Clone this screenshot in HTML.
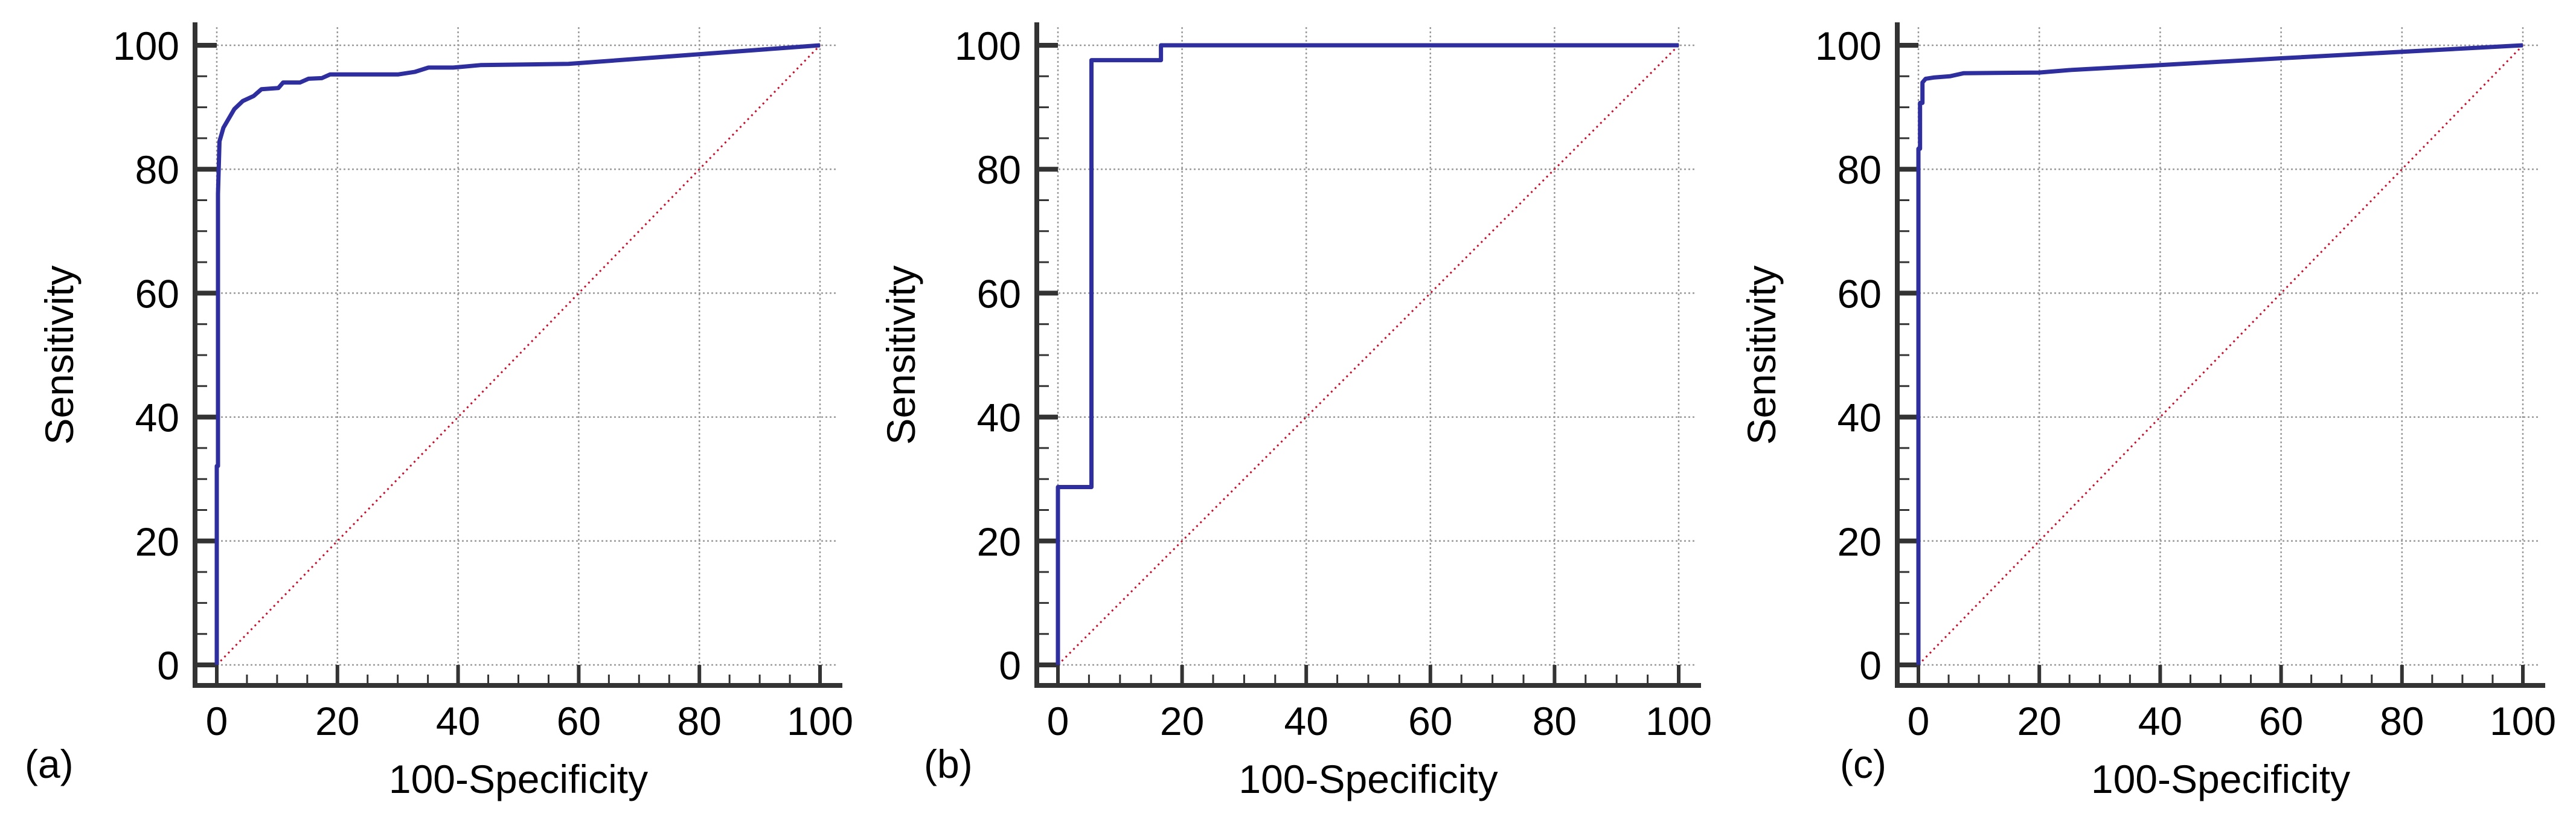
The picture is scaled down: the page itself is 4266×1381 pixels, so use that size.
<!DOCTYPE html>
<html><head><meta charset="utf-8"><style>
html,body{margin:0;padding:0;background:#fff;}
svg{display:block;font-family:"Liberation Sans",Arial,sans-serif;}
</style></head><body>
<svg id="chart" width="4266" height="1381" viewBox="0 0 4266 1381" xmlns="http://www.w3.org/2000/svg"></svg>
<script>
// Data
const tickValues = [0, 20, 40, 60, 80, 100];
const panelLabels = ["(a)", "(b)", "(c)"];
const rocA_x = [0, 0, 0.2, 0.2, 0.45, 1.1, 2.9, 4.3, 6.1, 7.4, 10.2, 11, 13.8, 15.2, 17.4, 18.8, 30.1, 32.8, 35.1, 39.2, 43.7, 58.3, 100];
const rocA_y = [0, 32.1, 32.1, 76, 84.5, 86.7, 89.7, 91, 91.8, 92.9, 93.1, 94, 94, 94.6, 94.7, 95.3, 95.3, 95.7, 96.4, 96.4, 96.8, 97, 100];
const rocB_x = [0, 0, 5.4, 5.4, 16.6, 16.6, 100];
const rocB_y = [0, 28.7, 28.7, 97.6, 97.6, 100, 100];
const rocC_x = [0, 0, 0.27, 0.27, 0.67, 0.67, 1.2, 2.5, 5.2, 7.5, 20, 25, 40, 60, 100];
const rocC_y = [0, 83.3, 83.3, 90.7, 90.7, 94, 94.6, 94.8, 95, 95.5, 95.6, 96, 96.8, 97.9, 100];

const panels = [
  {name:"a", axisX:323, x0:359, x100:1358, lbl:41, xs:rocA_x, ys:rocA_y},
  {name:"b", axisX:1717, x0:1752, x100:2780, lbl:1530, xs:rocB_x, ys:rocB_y},
  {name:"c", axisX:3142, x0:3177, x100:4178, lbl:3047, xs:rocC_x, ys:rocC_y}
];
const Y0 = 1101, Y100 = 75, AXIS_Y = 1135;
const NS = "http://www.w3.org/2000/svg";
const svg = document.getElementById("chart");
function mk(tag, attrs, parent){
  const e = document.createElementNS(NS, tag);
  for (const k in attrs) e.setAttribute(k, attrs[k]);
  (parent||svg).appendChild(e);
  return e;
}
panels.forEach((p, pi) => {
  const g = mk("g", {});
  
  
  const sx = v => p.x0 + (p.x100 - p.x0) * v / 100;
  const sy = v => Y0 + (Y100 - Y0) * v / 100;
  // grid
  tickValues.forEach(t => {
    const h = mk("line", {x1:p.axisX+8, x2:sx(100)+28, y1:sy(t), y2:sy(t), stroke:"#9a9a9a", "stroke-width":2.5, "stroke-dasharray":"3 4"}, g);
    
    
    const v = mk("line", {x1:sx(t), x2:sx(t), y1:sy(100)-30, y2:AXIS_Y-8, stroke:"#9a9a9a", "stroke-width":2.5, "stroke-dasharray":"3 4"}, g);
    
    
  });
  // diagonal reference
  const d = mk("line", {x1:sx(0), y1:sy(0), x2:sx(100), y2:sy(100), stroke:"#c8102e", "stroke-width":3, "stroke-dasharray":"3 6"}, g);
  
  
  // ticks
  for (let t = 0; t <= 100; t += 5) {
    const major = t % 20 === 0;
    const yt = mk("line", {x1:p.axisX, x2: major ? sx(0) : p.axisX+20, y1:sy(t), y2:sy(t), stroke:"#333", "stroke-width": major ? 8 : 3}, g);
    
    
    const xt = mk("line", {x1:sx(t), x2:sx(t), y1:AXIS_Y, y2: major ? Y0 : Y0+16, stroke:"#333", "stroke-width": major ? 6 : 3}, g);
    
    
  }
  // axes
  const ya = mk("line", {x1:p.axisX, x2:p.axisX, y1:37, y2:AXIS_Y+4, stroke:"#333", "stroke-width":8}, g);
  
  
  const xa = mk("line", {x1:p.axisX-4, x2:sx(100)+37, y1:AXIS_Y, y2:AXIS_Y, stroke:"#333", "stroke-width":8}, g);
  
  
  // tick labels
  tickValues.forEach(t => {
    const yl = mk("text", {x:p.axisX-26, y:sy(t)+24, "text-anchor":"end", "font-size":66, fill:"#000"}, g);
    yl.textContent = t;
    
    
    const xl = mk("text", {x:sx(t), y:1217, "text-anchor":"middle", "font-size":66, fill:"#000"}, g);
    xl.textContent = t;
    
    
  });
  // titles
  const xtl = mk("text", {x:(sx(0)+sx(100))/2, y:1313, "text-anchor":"middle", "font-size":66, fill:"#000"}, g);
  xtl.textContent = "100-Specificity";
  
  
  const ytx = p.axisX - 202, yty = 588;
  const ytl = mk("text", {x:ytx, y:yty, "text-anchor":"middle", "font-size":66, fill:"#000", transform:`rotate(-90 ${ytx} ${yty})`}, g);
  ytl.textContent = "Sensitivity";
  
  
  const pl = mk("text", {x:p.lbl, y:1288, "font-size":66, fill:"#000"}, g);
  pl.textContent = panelLabels[pi];
  
  
  // ROC curve
  const pts = p.xs.map((x, i) => sx(x).toFixed(1) + "," + sy(p.ys[i]).toFixed(1)).join(" ");
  const c = mk("polyline", {points:pts, fill:"none", stroke:"#2e2e9e", "stroke-width":7, "stroke-linejoin":"round"}, g);
  
  
});
</script>
</body></html>
